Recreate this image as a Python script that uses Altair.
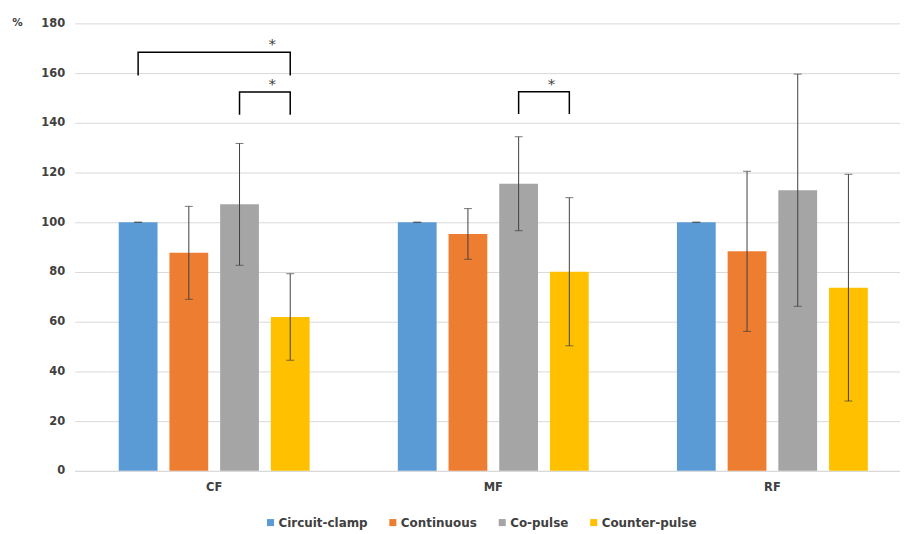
import altair as alt
import pandas as pd

groups = ["CF", "MF", "RF"]
series = ["Circuit-clamp", "Continuous", "Co-pulse", "Counter-pulse"]
colors = ["#5B9BD5", "#ED7D31", "#A5A5A5", "#FFC000"]

means = {
    "CF": [100, 87.7, 107.2, 61.9],
    "MF": [100, 95.3, 115.5, 80.1],
    "RF": [100, 88.3, 112.9, 73.7],
}
errors = {
    "CF": [0, 18.7, 24.5, 17.4],
    "MF": [0, 10.2, 18.9, 29.8],
    "RF": [0, 32.2, 46.7, 45.6],
}

# significance brackets: group, from series, to series, leg bottom, top
bracket_group = ["CF", "CF", "MF"]
bracket_from = ["Circuit-clamp", "Co-pulse", "Co-pulse"]
bracket_to = ["Counter-pulse", "Counter-pulse", "Counter-pulse"]
bracket_leg = [159.0, 143.2, 143.5]
bracket_top = [168.4, 152.4, 152.5]

rows = []
for g in groups:
    for s, m, e in zip(series, means[g], errors[g]):
        rows.append({"group": g, "series": s, "mean": m, "lo": m - e, "hi": m + e})
df = pd.DataFrame(rows)

brows = []
stars = []
for i, (g, a, b, leg, top) in enumerate(zip(bracket_group, bracket_from, bracket_to, bracket_leg, bracket_top)):
    brows += [
        {"id": i, "o": 0, "group": g, "series": a, "y": leg},
        {"id": i, "o": 1, "group": g, "series": a, "y": top},
        {"id": i, "o": 2, "group": g, "series": b, "y": top},
        {"id": i, "o": 3, "group": g, "series": b, "y": leg},
    ]
    stars.append({"group": g, "series": b, "y": top, "t": "*"})
bdf = pd.DataFrame(brows)
sdf = pd.DataFrame(stars)

FONT = "DejaVu Sans"
TXT = "#404040"

xenc = alt.X("group:N", scale=alt.Scale(domain=groups, paddingInner=0, paddingOuter=0, range=[0, 842]),
             axis=alt.Axis(title=None, labelAngle=0, labelFont=FONT, labelFontWeight="bold",
                           labelFontSize=11.5, labelColor=TXT, labelPadding=11, ticks=False,
                           grid=False, domainColor="#d9d9d9", domainWidth=1))
xoff = alt.XOffset("series:N", scale=alt.Scale(domain=series, paddingInner=0.235, paddingOuter=0.87))
yscale = alt.Scale(domain=[0, 180])

bars = alt.Chart(df).mark_bar().encode(
    x=xenc,
    xOffset=xoff,
    y=alt.Y("mean:Q", scale=yscale,
            axis=alt.Axis(title="%", titleAngle=0, titleX=-58, titleY=-1, titleAlign="center",
                          titleBaseline="middle", titleFont=FONT, titleFontSize=10.5,
                          titleFontWeight="bold", titleColor=TXT,
                          values=list(range(0, 181, 20)), labelFont=FONT, labelFontWeight="bold",
                          labelFontSize=11.5, labelColor=TXT, labelPadding=10, ticks=False,
                          domain=False, gridColor="#d9d9d9", gridWidth=1)),
    color=alt.Color("series:N", scale=alt.Scale(domain=series, range=colors),
                    legend=alt.Legend(title=None, orient="none", direction="horizontal",
                                      legendX=191, legendY=496, symbolType="square",
                                      symbolSize=50, symbolStrokeWidth=0, labelFont=FONT,
                                      labelFontWeight="bold", labelFontSize=12, labelColor=TXT,
                                      columnPadding=19, labelOffset=2)),
)

xn = alt.X("group:N")
xo = alt.XOffset("series:N")

rules = alt.Chart(df).mark_rule(color="#404040", strokeWidth=1).encode(
    x=xn, xOffset=xo, y="lo:Q", y2="hi:Q",
)
cap_lo = alt.Chart(df).mark_tick(color="#404040", thickness=1, size=8, orient="horizontal").encode(
    x=xn, xOffset=xo, y="lo:Q",
)
cap_hi = alt.Chart(df).mark_tick(color="#404040", thickness=1, size=8, orient="horizontal").encode(
    x=xn, xOffset=xo, y="hi:Q",
)

brackets = alt.Chart(bdf).mark_line(color="#000000", strokeWidth=1.5).encode(
    x=xn, xOffset=xo, y="y:Q",
    detail="id:N", order="o:Q",
)
star_text = alt.Chart(sdf).mark_text(font=FONT, fontSize=15, fill="#404040", color="#404040",
                                     dx=-18, dy=0, baseline="bottom").encode(
    x=xn, xOffset=xo, y="y:Q", text="t:N",
)

chart = alt.layer(bars, rules, cap_lo, cap_hi, brackets, star_text).properties(
    width=830, height=450,
    background="white",
    autosize=alt.AutoSizeParams(type="none"),
    padding={"left": 67, "top": 14, "right": 0, "bottom": 58},
).configure_view(strokeWidth=0, stroke="transparent").configure_axisY(
    domain=False, ticks=False
)

chart.save("out.html", embed_options={"renderer": "svg", "actions": False})
